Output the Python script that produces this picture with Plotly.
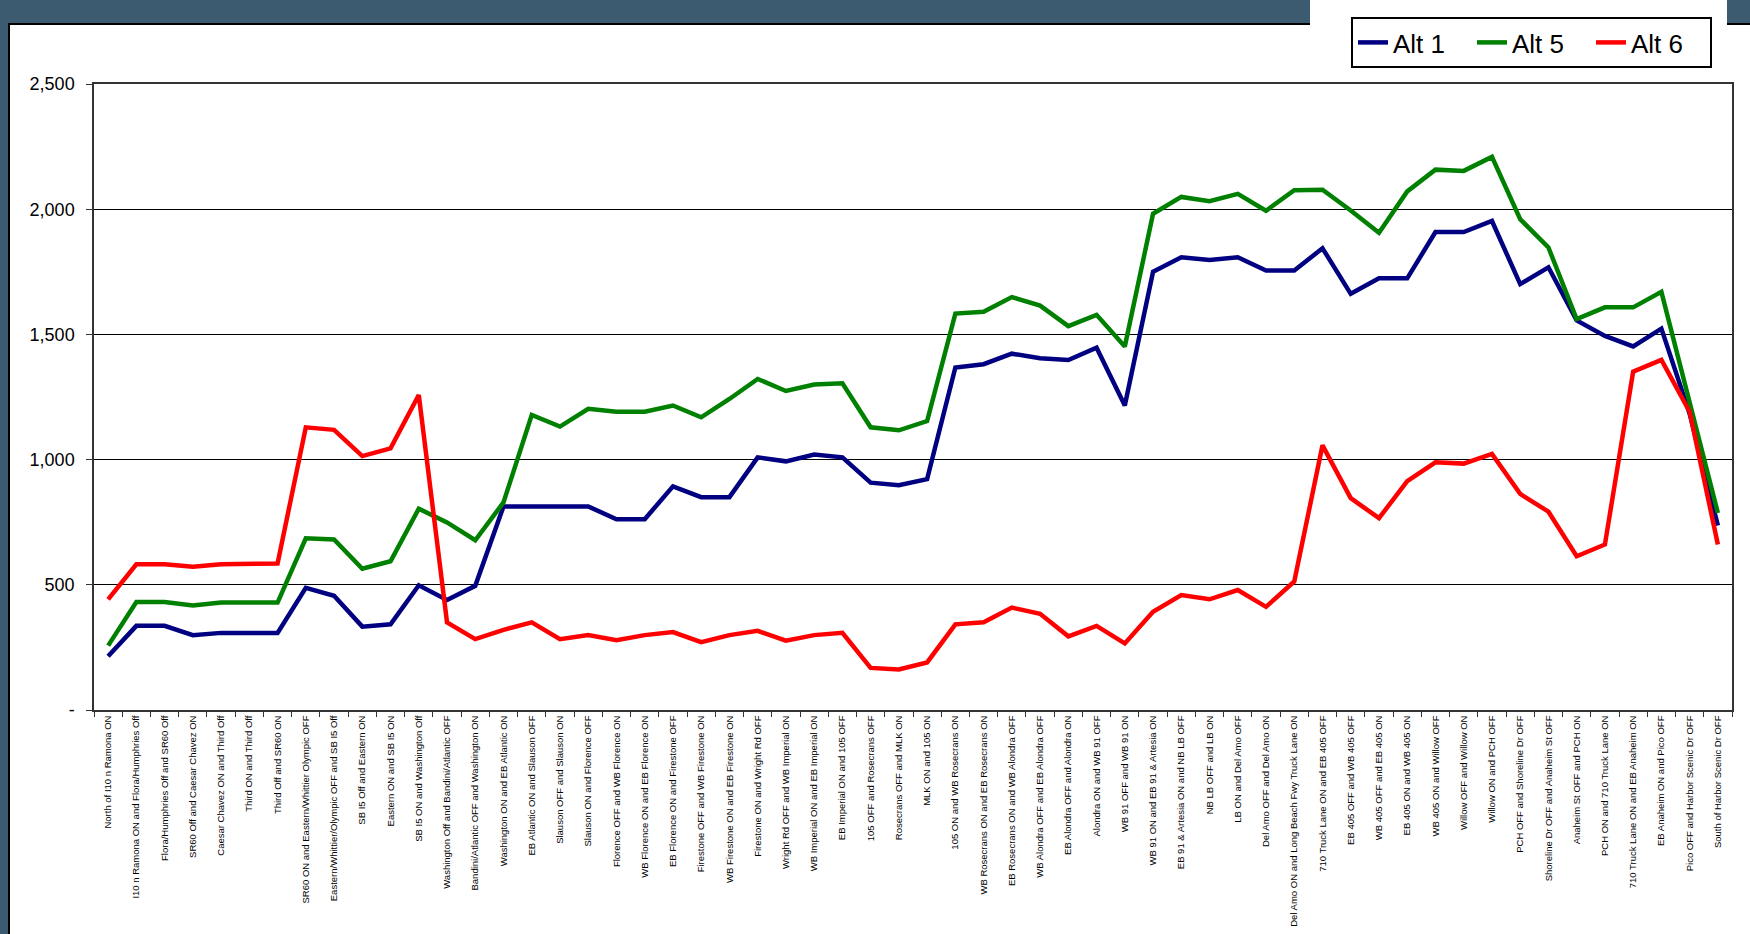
import plotly.graph_objects as go

categories = [
    "North of I10 n Ramona ON",
    "I10 n Ramona ON and Flora/Humphries Off",
    "Flora/Humphries Off and SR60 Off",
    "SR60 Off and Caesar Chavez ON",
    "Caesar Chavez ON and Third Off",
    "Third ON and Third Off",
    "Third Off and SR60 ON",
    "SR60 ON and Eastern/Whittier Olympic OFF",
    "Eastern/Whittier/Olympic OFF and SB I5 Off",
    "SB I5 Off and Eastern ON",
    "Eastern ON and SB I5 ON",
    "SB I5 ON and Washington Off",
    "Washington Off and Bandini/Atlantic OFF",
    "Bandini/Atlantic OFF and Washington ON",
    "Washington ON and EB Atlantic ON",
    "EB Atlantic ON and Slauson OFF",
    "Slauson OFF and Slauson ON",
    "Slauson ON and Florence OFF",
    "Florence OFF and WB Florence ON",
    "WB Florence ON and EB Florence ON",
    "EB Florence ON and Firestone OFF",
    "Firestone OFF and WB Firestone ON",
    "WB Firestone ON and EB Firestone ON",
    "Firestone ON and Wright Rd OFF",
    "Wright Rd OFF and WB Imperial ON",
    "WB Imperial ON and EB Imperial ON",
    "EB Imperial ON and 105 OFF",
    "105 OFF and Rosecrans OFF",
    "Rosecrans OFF and MLK ON",
    "MLK ON and 105 ON",
    "105 ON and WB Rosecrans ON",
    "WB Rosecrans ON and EB Rosecrans ON",
    "EB Rosecrans ON and WB Alondra OFF",
    "WB Alondra OFF and EB Alondra OFF",
    "EB Alondra OFF and Alondra ON",
    "Alondra ON and WB 91 OFF",
    "WB 91 OFF and WB 91 ON",
    "WB 91 ON and EB 91 & Artesia ON",
    "EB 91 & Artesia ON and NB LB OFF",
    "NB LB OFF and LB ON",
    "LB ON and Del Amo OFF",
    "Del Amo OFF and Del Amo ON",
    "Del Amo ON and Long Beach Fwy Truck Lane ON",
    "710 Truck Lane ON and EB 405 OFF",
    "EB 405 OFF and WB 405 OFF",
    "WB 405 OFF and EB 405 ON",
    "EB 405 ON and WB 405 ON",
    "WB 405 ON and Willow OFF",
    "Willow OFF and Willow ON",
    "Willow ON and PCH OFF",
    "PCH OFF and Shoreline Dr OFF",
    "Shoreline Dr OFF and Anaheim St OFF",
    "Anaheim St OFF and PCH ON",
    "PCH ON and 710 Truck Lane ON",
    "710 Truck Lane ON and EB Anaheim ON",
    "EB Anaheim ON and Pico OFF",
    "Pico OFF and Harbor Scenic Dr OFF",
    "South of Harbor Scenic Dr OFF",
]

alt1 = [215, 336, 336, 299, 308, 308, 308, 488, 456, 333, 342, 498, 439, 496, 813,
        813, 813, 813, 762, 762, 893, 850, 850, 1009, 993, 1020, 1009, 908, 898, 922,
        1368, 1381, 1423, 1405, 1398, 1447, 1216, 1750, 1808, 1797, 1808, 1755, 1755,
        1844, 1662, 1724, 1724, 1909, 1909, 1953, 1701, 1768, 1556, 1494, 1452, 1523,
        1183, 737]

alt5 = [257, 431, 431, 417, 429, 429, 429, 686, 681, 564, 594, 804, 749, 678, 829,
        1178, 1132, 1203, 1191, 1191, 1216, 1169, 1242, 1322, 1274, 1300, 1305, 1129,
        1117, 1154, 1583, 1590, 1649, 1615, 1533, 1578, 1452, 1982, 2049, 2032, 2061,
        1994, 2076, 2078, 1995, 1906, 2071, 2158, 2153, 2209, 1960, 1847, 1561, 1608,
        1608, 1670, 1230, 787]

alt6 = [442, 582, 582, 572, 582, 582, 585, 1129, 1119, 1014, 1045, 1258, 350, 283, 320,
        350, 283, 299, 279, 299, 311, 271, 299, 316, 277, 299, 308, 168, 162, 190,
        342, 350, 409, 384, 294, 336, 266, 392, 459, 442, 479, 412, 513, 1057, 846,
        766, 914, 989, 984, 1023, 863, 792, 614, 661, 1351, 1398, 1191, 661]

series_names = ["Alt 1", "Alt 5", "Alt 6"]
series_colors = ["#000080", "#008000", "#FF0000"]

y_tickvals = [0, 500, 1000, 1500, 2000, 2500]
y_ticktext = ["-", "500", "1,000", "1,500", "2,000", "2,500"]

W, H = 1750, 934
L, R, T, B = 94, 18, 84, 224
pw = W - L - R
ph = H - T - B


def px_x(px):
    return (px - L) / pw


def px_y(py):
    return (H - B - py) / ph


fig = go.Figure()
for name, vals, col in zip(series_names, [alt1, alt5, alt6], series_colors):
    fig.add_trace(go.Scatter(x=categories, y=vals, mode="lines", name=name,
                             line=dict(color=col, width=4.5)))

font_family = "Liberation Sans, Arial, sans-serif"

fig.update_layout(
    template="none",
    width=W, height=H,
    margin=dict(l=L, r=R, t=T, b=B, autoexpand=False),
    paper_bgcolor="#3C5A70",
    plot_bgcolor="white",
    font=dict(family=font_family, color="black"),
    showlegend=True,
    legend=dict(
        orientation="h",
        x=px_x(1712), xanchor="right",
        y=px_y(17), yanchor="top",
        bgcolor="white",
        bordercolor="black", borderwidth=2,
        font=dict(family=font_family, size=26, color="black"),
        entrywidth=74,
        itemwidth=30,
        tracegroupgap=0,
    ),
    xaxis=dict(
        type="category",
        range=[-0.5, len(categories) - 0.5],
        tickangle=-90,
        tickfont=dict(family=font_family, size=9.5, color="black"),
        ticks="outside", tickson="boundaries", ticklen=5, tickcolor="#333333",
        showgrid=False,
        showline=True, linecolor="#333333", linewidth=1.5, mirror=True,
        automargin=False,
        zeroline=False,
    ),
    yaxis=dict(
        range=[0, 2500],
        tickvals=y_tickvals, ticktext=y_ticktext,
        tickfont=dict(family=font_family, size=18, color="black"),
        ticks="outside", ticklen=6, tickcolor="#333333",
        ticklabelstandoff=8,
        showgrid=True, gridcolor="black", gridwidth=1,
        showline=True, linecolor="#333333", linewidth=1.5, mirror=True,
        automargin=False,
        zeroline=False,
    ),
    shapes=[
        dict(type="rect", xref="paper", yref="paper", layer="below",
             x0=px_x(9), x1=px_x(1760), y0=px_y(940), y1=px_y(24),
             fillcolor="white", line=dict(color="black", width=2)),
        dict(type="rect", xref="paper", yref="paper", layer="below",
             x0=px_x(1310), x1=px_x(1727), y0=px_y(27), y1=px_y(-5),
             fillcolor="white", line=dict(width=0)),
    ],
)

fig.write_html(
    "out.html",
    config={"displayModeBar": False},
    post_script="document.body.style.margin='0';document.body.style.overflow='hidden';",
)
